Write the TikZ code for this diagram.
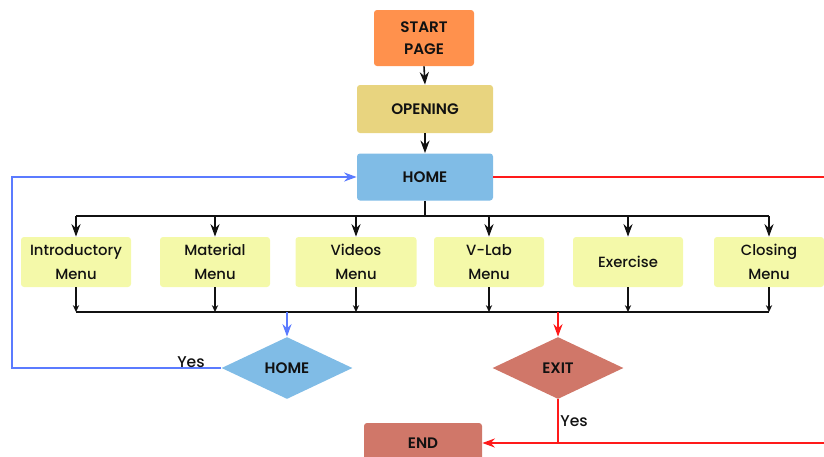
\documentclass[tikz,border=0pt]{standalone}
\usepackage{fontspec}
\setmainfont{Poppins}
\newfontfamily\capsfont{Poppins SemiBold}
\newfontfamily\menufont{Poppins Medium}
\usepackage{tikz}
\usepackage{xcolor}
\usetikzlibrary{arrows.meta,positioning,calc,shapes.geometric}
\definecolor{startc}{HTML}{FF914D}
\definecolor{openc}{HTML}{E8D47F}
\definecolor{homec}{HTML}{80BCE6}
\definecolor{menuc}{HTML}{F4F9A9}
\definecolor{exitc}{HTML}{D07769}
\definecolor{loopblue}{HTML}{5B7BFF}
\definecolor{loopred}{HTML}{FF1A1A}
\definecolor{text}{HTML}{111111}
\tikzset{
  block/.style={draw=none, rounded corners=1.5pt, align=center, inner sep=2pt,
                text=text, font=\fontsize{7.6}{11}\selectfont\capsfont},
  menubox/.style={draw=none, fill=menuc, rounded corners=1.5pt, align=center,
                  inner sep=1pt, minimum height=25pt, text=text,
                  font=\fontsize{7.4}{12}\selectfont\menufont},
  decision/.style={diamond, draw=none, inner sep=0pt, minimum width=65.5pt,
                   minimum height=31pt, text=text,
                   font=\fontsize{7.6}{11}\selectfont\capsfont},
  arrow/.style={-{Stealth[length=2.2mm,width=1.6mm]}, line width=0.8pt, draw=text},
  tinyarrow/.style={-{Stealth[length=1.2mm,width=1.1mm]}, line width=0.6pt, draw=text},
  link/.style={line width=0.8pt, draw=text},
  yeslabel/.style={font=\fontsize{7.8}{9}\selectfont\menufont, text=text, inner sep=1pt}
}
\begin{document}
\begin{tikzpicture}[x=0.5pt,y=-0.5pt]
        \useasboundingbox (0,0) rectangle (824,456);

        % top column
        \node[block,fill=startc,minimum width=50pt,minimum height=28pt] (start) at (424,38) {START\\PAGE};
        \node[block,fill=openc,minimum width=68pt,minimum height=24pt] (opening) at (425,109) {OPENING};
        \node[block,fill=homec,minimum width=68pt,minimum height=23.5pt] (home) at (425,177) {HOME};
        \draw[arrow] (start.south) -- (opening.north);
        \draw[arrow] (opening.south) -- (home.north);

        % menu row
        \node[menubox,minimum width=55pt] (intro) at (76,262) {Introductory\\Menu};
        \node[menubox,minimum width=55pt] (material) at (215,262) {Material\\Menu};
        \node[menubox,minimum width=60.5pt] (videos) at (356,262) {Videos\\Menu};
        \node[menubox,minimum width=55pt] (vlab) at (489,262) {V-Lab\\Menu};
        \node[menubox,minimum width=55pt] (exercise) at (628,262) {Exercise};
        \node[menubox,minimum width=55pt] (closing) at (769,262) {Closing\\Menu};

        % split and merge
        \coordinate (split) at (425,216);
        \coordinate (merge) at (425,312);
        \draw[link] (home.south) -- (split);
        \draw[link] (intro.north |- split) -- (closing.north |- split);
        \draw[link] (intro.south |- merge) -- (closing.south |- merge);
        \foreach \n in {intro,material,videos,vlab,exercise,closing} {
          \draw[arrow] (\n.north |- split) -- (\n.north);
          \draw[tinyarrow] (\n.south) -- (\n.south |- merge);
        }

        % decisions
        \node[decision,fill=homec] (dhome) at (287,368) {HOME};
        \node[decision,fill=exitc] (dexit) at (558,368) {EXIT};
        \node[block,fill=exitc,minimum width=59pt,minimum height=20pt] (stop) at (423,443) {END};
        \draw[arrow,draw=loopblue] (dhome.north |- merge) -- (dhome.north);
        \draw[arrow,draw=loopred] (dexit.north |- merge) -- (dexit.north);

        % back to home
        \coordinate (leftrail) at (12,0);
        \draw[arrow,draw=loopblue] (dhome.west) -- (dhome.west -| leftrail) |- (home.west);
        \node[yeslabel,anchor=south] (yesh) at (191,370) {Yes};

        % exit
        \coordinate (rightrail) at (850,0);
        \draw[arrow,draw=loopred] (home.east) -- (home.east -| rightrail) |- (stop.east);
        \draw[link,draw=loopred] (dexit.south) -- (dexit.south |- stop.east);
        \node[yeslabel,anchor=west] (yesx) at (558,421) {Yes};
      \end{tikzpicture}
\end{document}
